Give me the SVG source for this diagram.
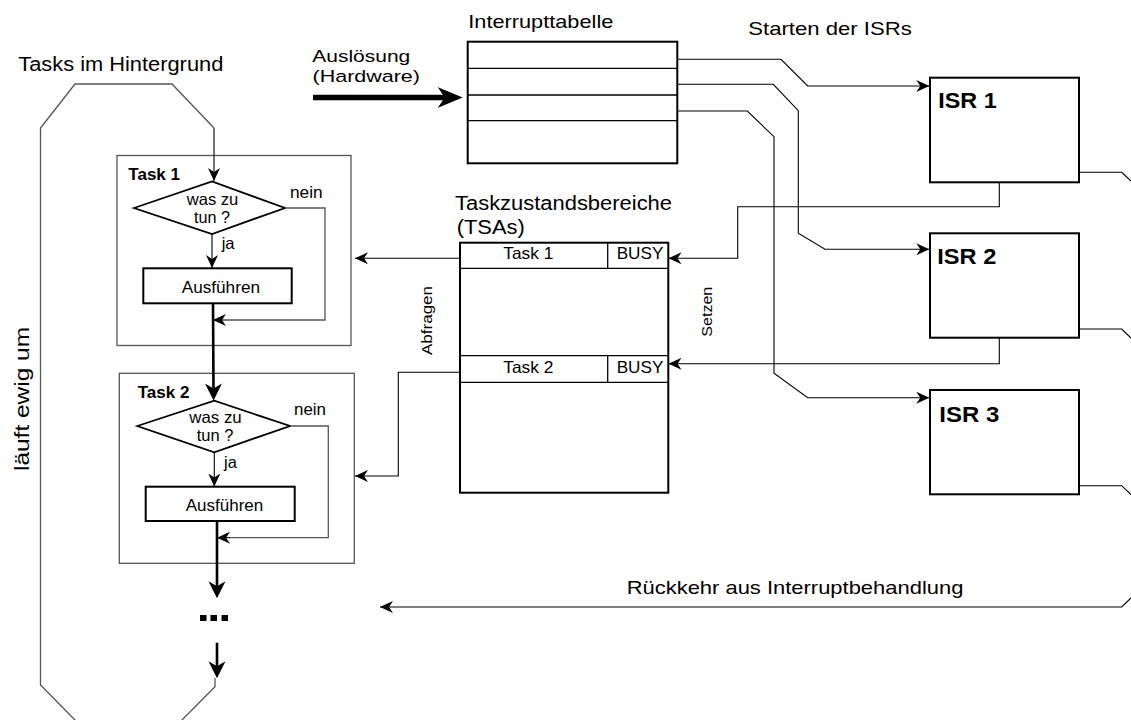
<svg xmlns="http://www.w3.org/2000/svg" width="1131" height="720" viewBox="0 0 1131 720">
  <style>
    text { font-family: "Liberation Sans", Arial, sans-serif; fill: #000; }
    .lbl { font-size: 19px; }
    .sm { font-size: 16.5px; }
    .rot { font-size: 14.5px; }
    .bold { font-weight: bold; }
    .isr { font-size: 22px; font-weight: bold; }
    .frame { fill: none; stroke: #555; stroke-width: 1.3; }
    .box { fill: #fff; stroke: #000; stroke-width: 2; }
    .shape { fill: #fff; stroke: #000; stroke-width: 1.8; }
    .row { stroke: #000; stroke-width: 1.3; fill: none; }
    .wire { fill: none; stroke: #000; stroke-width: 1.1; }
    .gwire { fill: none; stroke: #555; stroke-width: 1.3; }
    .flow { fill: none; stroke: #000; stroke-width: 2.6; }
  </style>
  <defs>
    <!-- swallow-tail arrowheads; thin one anchored at the tip -->
    <marker id="ah" markerUnits="userSpaceOnUse" markerWidth="14" markerHeight="14" refX="13" refY="7" orient="auto">
      <path d="M13,7 L0,1 L4,7 L0,13 Z" fill="#000"/>
    </marker>
    <!-- thick ones anchored at the notch, so the stroke ends inside the head -->
    <marker id="ahBig" markerUnits="userSpaceOnUse" markerWidth="18" markerHeight="18" refX="5" refY="9" orient="auto">
      <path d="M17,9 L0,0.5 L5,9 L0,17.5 Z" fill="#000"/>
    </marker>
    <marker id="ahHw" markerUnits="userSpaceOnUse" markerWidth="26" markerHeight="24" refX="7" refY="12" orient="auto">
      <path d="M25,12 L0,1.5 L7,12 L0,22.5 Z" fill="#000"/>
    </marker>
  </defs>

  <!-- background loop -->
  <g id="background-loop">
    <path class="frame" d="M214,128 L172,84 L75,84 L40.5,128 L40.5,685 L76,721"/>
    <path class="frame" d="M215,678 L215,686.7 L181,721"/>
    <text x="18.3" y="71" font-size="20" textLength="205" lengthAdjust="spacingAndGlyphs">Tasks im Hintergrund</text>
    <text font-size="20" transform="translate(29,471) rotate(-90)" textLength="144" lengthAdjust="spacingAndGlyphs">läuft ewig um</text>
  </g>

  <!-- Task 1 -->
  <g id="task1">
    <rect class="frame" x="117" y="155.5" width="234" height="190"/>
    <text class="sm bold" x="128.3" y="180" font-size="16" textLength="51.7" lengthAdjust="spacingAndGlyphs">Task 1</text>
    <polygon class="shape" points="134,208 212,181.5 285,208 212,234"/>
    <text class="sm" x="186.7" y="205" textLength="51.6" lengthAdjust="spacingAndGlyphs">was zu</text>
    <text class="sm" x="194" y="222.7" textLength="36" lengthAdjust="spacingAndGlyphs">tun ?</text>
    <text class="sm" x="290" y="197.7" textLength="32.7" lengthAdjust="spacingAndGlyphs">nein</text>
    <text class="sm" x="221.7" y="249">ja</text>
    <rect class="box" x="143.3" y="268.3" width="148.4" height="35"/>
    <text class="sm" x="181.7" y="293.3" font-size="17" textLength="78.3" lengthAdjust="spacingAndGlyphs">Ausführen</text>
  </g>

  <!-- Task 2 -->
  <g id="task2">
    <rect class="frame" x="119.3" y="373.3" width="235" height="190"/>
    <text class="sm bold" x="137.7" y="398" font-size="16" textLength="51.7" lengthAdjust="spacingAndGlyphs">Task 2</text>
    <polygon class="shape" points="137.3,426 214.3,400.7 290,426 214.3,452.3"/>
    <text class="sm" x="189.3" y="422.7" textLength="52.4" lengthAdjust="spacingAndGlyphs">was zu</text>
    <text class="sm" x="196.7" y="440.7" textLength="36.6" lengthAdjust="spacingAndGlyphs">tun ?</text>
    <text class="sm" x="294" y="415" textLength="32" lengthAdjust="spacingAndGlyphs">nein</text>
    <text class="sm" x="224" y="467.7">ja</text>
    <rect class="box" x="145.7" y="486.7" width="149" height="34.3"/>
    <text class="sm" x="185.7" y="511" font-size="17" textLength="77.6" lengthAdjust="spacingAndGlyphs">Ausführen</text>
  </g>

  <!-- continuation dots -->
  <g id="more-tasks">
    <rect x="200" y="615" width="6.5" height="6" fill="#000"/>
    <rect x="210.5" y="615" width="6.5" height="6" fill="#000"/>
    <rect x="221.5" y="615" width="6.5" height="6" fill="#000"/>
  </g>

  <!-- interrupt table -->
  <g id="interrupt-table">
    <text class="lbl" x="468.3" y="28.3" textLength="145" lengthAdjust="spacingAndGlyphs">Interrupttabelle</text>
    <rect class="box" x="467.7" y="41.7" width="209.6" height="121.6"/>
    <line class="row" x1="467.7" y1="68.3" x2="677.3" y2="68.3"/>
    <line class="row" x1="467.7" y1="95" x2="677.3" y2="95"/>
    <line class="row" x1="467.7" y1="120.7" x2="677.3" y2="120.7"/>
  </g>

  <g id="trigger">
    <text x="312.3" y="62.3" font-size="17.4" textLength="98" lengthAdjust="spacingAndGlyphs">Auslösung</text>
    <text x="312.5" y="81.8" font-size="17.4" textLength="107.5" lengthAdjust="spacingAndGlyphs">(Hardware)</text>
  </g>

  <!-- task state areas -->
  <g id="tsa">
    <text x="455" y="210" font-size="19.5" textLength="217" lengthAdjust="spacingAndGlyphs">Taskzustandsbereiche</text>
    <text x="456.7" y="234" font-size="19.5" textLength="68" lengthAdjust="spacingAndGlyphs">(TSAs)</text>
    <rect class="box" x="460" y="242.7" width="208.3" height="250"/>
    <line class="row" x1="460" y1="268.3" x2="668.3" y2="268.3"/>
    <line class="row" x1="607.7" y1="242.7" x2="607.7" y2="268.3"/>
    <line class="row" x1="460" y1="355.7" x2="668.3" y2="355.7"/>
    <line class="row" x1="460" y1="382.3" x2="668.3" y2="382.3"/>
    <line class="row" x1="607.7" y1="355.7" x2="607.7" y2="382.3"/>
    <text class="sm" x="503.3" y="259.3" textLength="50" lengthAdjust="spacingAndGlyphs">Task 1</text>
    <text class="sm" x="616.7" y="259.3" textLength="46.7" lengthAdjust="spacingAndGlyphs">BUSY</text>
    <text class="sm" x="503.3" y="372.7" textLength="50" lengthAdjust="spacingAndGlyphs">Task 2</text>
    <text class="sm" x="616.7" y="372.7" textLength="46.7" lengthAdjust="spacingAndGlyphs">BUSY</text>
  </g>

  <!-- interrupt service routines -->
  <g id="isr1">
    <rect class="box" x="930" y="77.7" width="149" height="104.6"/>
    <text class="isr" x="938.3" y="108.3" textLength="58.4" lengthAdjust="spacingAndGlyphs">ISR 1</text>
  </g>
  <g id="isr2">
    <rect class="box" x="930" y="233.3" width="149" height="104.4"/>
    <text class="isr" x="937.3" y="263.5" textLength="59" lengthAdjust="spacingAndGlyphs">ISR 2</text>
  </g>
  <g id="isr3">
    <rect class="box" x="930" y="390" width="149" height="104.3"/>
    <text class="isr" x="939.3" y="422.3" textLength="60" lengthAdjust="spacingAndGlyphs">ISR 3</text>
  </g>

  <g id="labels">
    <text class="lbl" x="748.3" y="35" textLength="163.5" lengthAdjust="spacingAndGlyphs">Starten der ISRs</text>
    <text class="rot" transform="translate(432,355) rotate(-90)" textLength="69" lengthAdjust="spacingAndGlyphs">Abfragen</text>
    <text class="rot" transform="translate(711.5,336.7) rotate(-90)" textLength="50" lengthAdjust="spacingAndGlyphs">Setzen</text>
    <text class="lbl" x="626.7" y="594" textLength="336.7" lengthAdjust="spacingAndGlyphs">Rückkehr aus Interruptbehandlung</text>
  </g>

  <!-- connectors -->
  <g id="connectors">
    <!-- task loop flow -->
    <path class="wire" d="M214,128 L214,181" marker-end="url(#ah)"/>
    <path class="wire" d="M212,234 L212,268" marker-end="url(#ah)"/>
    <path class="gwire" d="M287,208 L325,208 L325,320 L226,320"/>
    <path class="wire" d="M226,320 L213,320" marker-end="url(#ah)"/>
    <path class="flow" d="M213,303 L213.5,388.5" marker-end="url(#ahBig)"/>
    <path class="wire" d="M214.3,452.3 L214.3,486.5" marker-end="url(#ah)"/>
    <path class="gwire" d="M292,426 L328.3,426 L328.3,537.7 L230,537.7"/>
    <path class="wire" d="M230,537.7 L217,537.7" marker-end="url(#ah)"/>
    <path class="flow" d="M217,521 L217,586.3" marker-end="url(#ahBig)"/>
    <path class="flow" d="M217,642.7 L217,666.3" marker-end="url(#ahBig)"/>

    <!-- hardware trigger -->
    <path d="M313,97.5 L444.7,97.5" fill="none" stroke="#000" stroke-width="5.5" marker-end="url(#ahHw)"/>

    <!-- table to ISRs -->
    <path class="wire" d="M677,59.3 L781,59.3 L807.7,86 L929.3,86" marker-end="url(#ah)"/>
    <path class="wire" d="M677,84.3 L773.3,84.3 L798.3,110.7 L798.3,233.3 L825,249.3 L929.3,249.3" marker-end="url(#ah)"/>
    <path class="wire" d="M677,111 L747.3,111 L774,136.7 L774,373.3 L807.7,397.7 L929.3,397.7" marker-end="url(#ah)"/>

    <!-- ISRs set BUSY flags -->
    <path class="wire" d="M999.3,182.3 L999.3,206.7 L737.7,206.7 L737.7,258.3 L668.5,258.3" marker-end="url(#ah)"/>
    <path class="wire" d="M999.3,337.7 L999.3,363.7 L668.5,363.7" marker-end="url(#ah)"/>

    <!-- tasks query TSAs -->
    <path class="wire" d="M460,258.3 L355,258.3" marker-end="url(#ah)"/>
    <path class="wire" d="M460,372.3 L398.3,372.3 L398.3,476 L355,476" marker-end="url(#ah)"/>

    <!-- return from interrupt handling -->
    <path class="wire" d="M1079,172.3 L1121.7,172.3 L1131,181"/>
    <path class="wire" d="M1079,329 L1121.7,329 L1131,338"/>
    <path class="wire" d="M1079,485.7 L1121.7,485.7 L1131,494.5"/>
    <path class="wire" d="M1131,598 L1121.7,607 L380,607" marker-end="url(#ah)"/>
  </g>
</svg>
